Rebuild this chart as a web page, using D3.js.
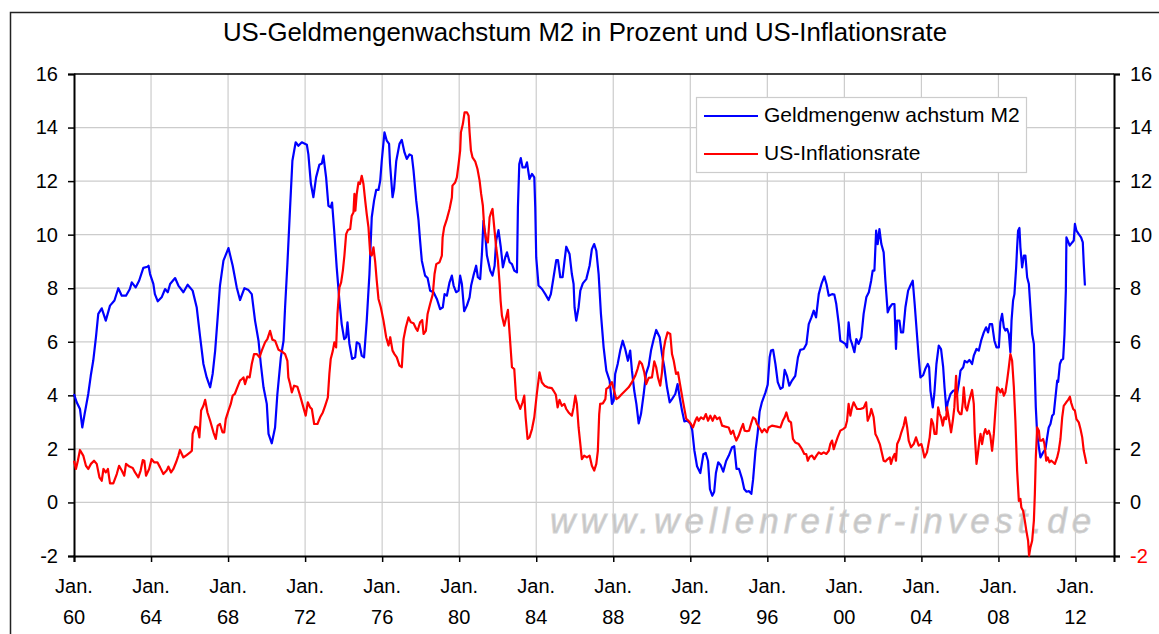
<!DOCTYPE html>
<html>
<head>
<meta charset="utf-8">
<script src="https://cdn.jsdelivr.net/npm/d3@7"></script>
<style>
  body { margin: 0; background: #fff; }
  text { font-family: Arial, "Liberation Sans", sans-serif; }
</style>
</head>
<body>
<div id="chart"></div>
<script>
var title = "US-Geldmengenwachstum M2 in Prozent und US-Inflationsrate"
var seriesNames = ["Geldmengenw achstum M2", "US-Inflationsrate"]
var watermark = "www.wellenreiter-invest.de"
var yTicks = [-2, 0, 2, 4, 6, 8, 10, 12, 14, 16]
var xTickYears = [1960, 1964, 1968, 1972, 1976, 1980, 1984, 1988, 1992, 1996, 2000, 2004, 2008, 2012]

// Geldmengenwachstum M2 (% yoy)
var m2Years = [
  1960.00, 1960.14, 1960.31, 1960.43, 1960.55, 1960.74, 1960.87, 1961.00, 1961.14, 1961.26,
  1961.44, 1961.65, 1961.87, 1962.10, 1962.30, 1962.48, 1962.70, 1962.90, 1963.00, 1963.20,
  1963.38, 1963.60, 1963.81, 1963.87, 1963.95, 1964.12, 1964.20, 1964.35, 1964.55, 1964.73,
  1964.87, 1964.99, 1965.25, 1965.42, 1965.68, 1965.90, 1966.16, 1966.37, 1966.55, 1966.72,
  1966.89, 1967.07, 1967.20, 1967.33, 1967.46, 1967.58, 1967.76, 1967.90, 1968.02, 1968.24,
  1968.45, 1968.62, 1968.85, 1969.06, 1969.23, 1969.40, 1969.58, 1969.70, 1969.84, 1970.01,
  1970.10, 1970.27, 1970.44, 1970.56, 1970.74, 1970.88, 1970.96, 1971.08, 1971.22, 1971.34,
  1971.51, 1971.65, 1971.83, 1972.09, 1972.17, 1972.30, 1972.43, 1972.57, 1972.74, 1972.87,
  1972.95, 1973.09, 1973.21, 1973.33, 1973.40, 1973.51, 1973.64, 1973.78, 1973.90, 1974.03,
  1974.13, 1974.20, 1974.30, 1974.44, 1974.60, 1974.68, 1974.82, 1974.94, 1975.06, 1975.20,
  1975.34, 1975.46, 1975.58, 1975.69, 1975.81, 1975.90, 1975.98, 1976.12, 1976.24, 1976.36,
  1976.41, 1976.54, 1976.62, 1976.73, 1976.90, 1977.02, 1977.16, 1977.28, 1977.42, 1977.54,
  1977.63, 1977.77, 1977.89, 1977.97, 1978.06, 1978.23, 1978.36, 1978.49, 1978.67, 1978.84,
  1979.01, 1979.15, 1979.24, 1979.36, 1979.50, 1979.62, 1979.71, 1979.84, 1979.97, 1980.05,
  1980.14, 1980.26, 1980.40, 1980.54, 1980.62, 1980.74, 1980.88, 1980.97, 1981.09, 1981.18,
  1981.26, 1981.35, 1981.44, 1981.61, 1981.73, 1981.84, 1981.92, 1982.04, 1982.16, 1982.27,
  1982.39, 1982.48, 1982.62, 1982.74, 1982.86, 1983.00, 1983.05, 1983.12, 1983.20, 1983.29,
  1983.43, 1983.52, 1983.65, 1983.78, 1983.90, 1983.95, 1984.00, 1984.12, 1984.30, 1984.47,
  1984.64, 1984.76, 1984.90, 1985.04, 1985.13, 1985.25, 1985.37, 1985.47, 1985.56, 1985.73,
  1985.85, 1985.94, 1985.99, 1986.08, 1986.20, 1986.29, 1986.42, 1986.60, 1986.77, 1986.89,
  1987.01, 1987.12, 1987.24, 1987.36, 1987.50, 1987.64, 1987.81, 1987.93, 1988.02, 1988.10,
  1988.23, 1988.36, 1988.49, 1988.62, 1988.76, 1988.88, 1988.97, 1989.09, 1989.20, 1989.32,
  1989.44, 1989.58, 1989.70, 1989.84, 1989.96, 1990.10, 1990.23, 1990.41, 1990.53, 1990.65,
  1990.79, 1990.93, 1991.05, 1991.22, 1991.34, 1991.45, 1991.57, 1991.69, 1991.83, 1992.00,
  1992.10, 1992.21, 1992.35, 1992.52, 1992.68, 1992.80, 1992.92, 1993.02, 1993.14, 1993.24,
  1993.33, 1993.45, 1993.57, 1993.71, 1993.86, 1994.00, 1994.16, 1994.28, 1994.40, 1994.53,
  1994.68, 1994.80, 1994.92, 1995.05, 1995.17, 1995.26, 1995.38, 1995.50, 1995.60, 1995.72,
  1995.90, 1996.02, 1996.12, 1996.19, 1996.30, 1996.42, 1996.54, 1996.68, 1996.80, 1996.90,
  1997.02, 1997.14, 1997.28, 1997.45, 1997.59, 1997.71, 1997.89, 1998.03, 1998.15, 1998.29,
  1998.41, 1998.53, 1998.67, 1998.81, 1998.96, 1999.07, 1999.19, 1999.36, 1999.48, 1999.58,
  1999.71, 1999.79, 1999.93, 2000.05, 2000.14, 2000.22, 2000.31, 2000.40, 2000.52, 2000.62,
  2000.74, 2000.88, 2001.00, 2001.14, 2001.27, 2001.39, 2001.47, 2001.56, 2001.65, 2001.73,
  2001.82, 2001.92, 2002.04, 2002.13, 2002.25, 2002.36, 2002.48, 2002.60, 2002.68, 2002.74,
  2002.86, 2002.94, 2003.05, 2003.17, 2003.31, 2003.43, 2003.55, 2003.65, 2003.78, 2003.86,
  2003.95, 2004.09, 2004.20, 2004.33, 2004.40, 2004.47, 2004.59, 2004.67, 2004.78, 2004.90,
  2005.02, 2005.13, 2005.20, 2005.30, 2005.37, 2005.51, 2005.65, 2005.77, 2005.85, 2005.94,
  2006.03, 2006.17, 2006.25, 2006.37, 2006.49, 2006.63, 2006.72, 2006.86, 2006.98, 2007.10,
  2007.24, 2007.36, 2007.46, 2007.55, 2007.67, 2007.79, 2007.90, 2008.02, 2008.10, 2008.19,
  2008.28, 2008.36, 2008.45, 2008.54, 2008.62, 2008.68, 2008.76, 2008.83, 2008.92, 2008.97,
  2009.02, 2009.09, 2009.14, 2009.23, 2009.32, 2009.40, 2009.49, 2009.58, 2009.66, 2009.75,
  2009.84, 2009.89, 2009.94, 2010.01, 2010.10, 2010.18, 2010.32, 2010.44, 2010.53, 2010.61,
  2010.70, 2010.79, 2010.87, 2010.96, 2011.05, 2011.10, 2011.19, 2011.27, 2011.36, 2011.43,
  2011.50, 2011.53, 2011.60, 2011.70, 2011.83, 2011.91, 2011.97, 2012.05, 2012.17, 2012.29,
  2012.38, 2012.43, 2012.49]
var m2Values = [
  4.05, 3.74, 3.49, 2.80, 3.30, 4.05, 4.73, 5.30, 6.17, 7.04,
  7.25, 6.79, 7.35, 7.54, 8.00, 7.72, 7.72, 7.97, 8.22, 8.03,
  8.28, 8.76, 8.80, 8.84, 8.53, 8.16, 7.78, 7.51, 7.66, 7.97,
  7.85, 8.16, 8.38, 8.10, 7.85, 8.13, 7.91, 7.29, 6.17, 5.17,
  4.67, 4.30, 4.80, 5.67, 6.91, 8.10, 9.03, 9.28, 9.50, 8.84,
  8.03, 7.56, 8.00, 7.93, 7.78, 6.79, 6.04, 5.17, 4.30, 3.68,
  2.56, 2.21, 2.80, 4.05, 5.42, 6.04, 7.29, 8.90, 11.02, 12.76,
  13.45, 13.32, 13.45, 13.36, 13.00, 11.90, 11.40, 12.14, 12.61, 12.66,
  12.95, 12.14, 11.08, 11.02, 11.20, 10.15, 8.78, 7.54, 6.66, 6.10,
  6.17, 6.73, 5.92, 5.36, 5.42, 5.98, 5.92, 5.48, 5.42, 6.79,
  8.53, 10.65, 11.27, 11.67, 11.67, 12.02, 12.76, 13.82, 13.51, 13.39,
  12.64, 11.40, 11.71, 12.74, 13.39, 13.54, 13.07, 12.83, 13.00, 12.95,
  12.39, 11.27, 10.52, 9.78, 9.03, 8.47, 8.38, 7.91, 7.85, 7.60,
  7.22, 7.29, 7.78, 7.72, 8.22, 8.47, 8.10, 7.85, 7.91, 8.47,
  8.16, 7.14, 7.35, 7.66, 8.10, 8.47, 8.84, 8.41, 8.34, 9.28,
  10.52, 10.02, 9.22, 8.66, 8.47, 8.84, 9.78, 10.17, 9.53, 8.78,
  9.15, 9.34, 8.97, 8.90, 8.66, 8.59, 11.02, 12.64, 12.86, 12.51,
  12.51, 12.70, 12.08, 12.27, 12.14, 11.02, 9.15, 8.10, 7.97, 7.78,
  7.56, 7.78, 8.41, 9.05, 9.05, 8.41, 8.41, 9.03, 9.55, 9.28,
  8.53, 8.16, 7.29, 6.79, 7.29, 7.91, 8.18, 8.34, 8.84, 9.46,
  9.65, 9.40, 8.53, 7.04, 5.79, 4.92, 4.55, 3.68, 3.80, 4.80,
  5.17, 5.67, 6.04, 5.73, 5.29, 5.67, 4.92, 4.17, 3.68, 2.95,
  3.30, 4.05, 4.80, 5.11, 5.67, 6.10, 6.44, 6.17, 5.54, 5.05,
  4.30, 3.74, 3.86, 4.05, 4.42, 3.92, 3.43, 3.03, 3.05, 2.95,
  2.70, 1.95, 1.35, 1.10, 1.80, 1.85, 1.55, 0.50, 0.25, 0.40,
  1.10, 1.50, 1.40, 1.15, 1.55, 1.75, 2.05, 2.10, 1.25, 1.25,
  0.90, 0.50, 0.40, 0.42, 0.32, 0.85, 1.90, 2.60, 3.40, 3.75,
  4.10, 4.40, 5.42, 5.67, 5.70, 5.17, 4.49, 4.24, 4.30, 4.95,
  4.73, 4.36, 4.55, 4.73, 5.42, 5.70, 5.73, 5.92, 6.66, 6.91,
  7.16, 6.91, 7.78, 8.16, 8.44, 8.16, 7.72, 7.78, 7.76, 7.41,
  6.66, 6.04, 5.98, 5.92, 5.79, 6.73, 6.10, 5.92, 5.61, 6.10,
  5.92, 6.17, 7.04, 7.66, 7.85, 8.28, 8.66, 8.66, 10.15, 9.65,
  10.21, 9.65, 9.34, 8.28, 7.10, 7.29, 7.41, 7.41, 5.73, 6.79,
  6.79, 6.35, 6.35, 7.29, 7.91, 8.10, 8.28, 7.41, 6.17, 5.42,
  4.67, 4.75, 4.98, 5.17, 5.05, 4.17, 3.55, 4.05, 5.17, 5.86,
  5.73, 5.05, 4.30, 3.43, 3.74, 4.05, 4.17, 4.20, 4.05, 4.42,
  4.92, 5.05, 5.29, 5.23, 5.32, 5.17, 5.48, 5.73, 5.67, 6.04,
  6.35, 6.54, 6.35, 6.66, 6.66, 6.04, 5.79, 5.79, 6.73, 7.04,
  6.54, 6.42, 6.48, 6.29, 5.61, 6.79, 7.54, 7.78, 8.78, 9.53,
  10.15, 10.25, 9.53, 8.78, 9.22, 9.22, 8.41, 8.16, 7.29, 6.29,
  5.92, 4.80, 3.55, 2.56, 2.06, 1.68, 1.87, 1.99, 2.43, 2.80,
  2.93, 3.24, 3.30, 3.92, 4.55, 4.50, 5.17, 5.32, 5.36, 6.29,
  7.91, 9.90, 9.78, 9.59, 9.71, 9.78, 10.40, 10.15, 10.02, 9.90,
  9.71, 8.90, 8.10]

// US-Inflationsrate (% yoy)
var cpiYears = [
  1960.00, 1960.10, 1960.20, 1960.31, 1960.48, 1960.62, 1960.74, 1960.88, 1961.04, 1961.18,
  1961.32, 1961.44, 1961.53, 1961.65, 1961.76, 1961.87, 1962.04, 1962.22, 1962.34, 1962.48,
  1962.61, 1962.70, 1962.88, 1963.05, 1963.17, 1963.34, 1963.46, 1963.57, 1963.65, 1963.74,
  1963.90, 1964.03, 1964.16, 1964.33, 1964.47, 1964.64, 1964.81, 1964.90, 1965.04, 1965.16,
  1965.30, 1965.42, 1965.50, 1965.68, 1965.85, 1966.03, 1966.12, 1966.16, 1966.29, 1966.42,
  1966.51, 1966.60, 1966.72, 1966.81, 1966.93, 1967.07, 1967.24, 1967.36, 1967.46, 1967.58,
  1967.71, 1967.80, 1967.88, 1968.02, 1968.14, 1968.24, 1968.35, 1968.45, 1968.62, 1968.72,
  1968.80, 1968.88, 1969.00, 1969.12, 1969.23, 1969.35, 1969.50, 1969.63, 1969.75, 1969.92,
  1970.04, 1970.18, 1970.30, 1970.44, 1970.62, 1970.79, 1970.96, 1971.08, 1971.13, 1971.22,
  1971.31, 1971.43, 1971.60, 1971.74, 1971.91, 1972.03, 1972.14, 1972.26, 1972.35, 1972.47,
  1972.64, 1972.78, 1972.92, 1973.04, 1973.18, 1973.26, 1973.33, 1973.44, 1973.52, 1973.61,
  1973.68, 1973.78, 1973.87, 1973.96, 1974.04, 1974.13, 1974.22, 1974.34, 1974.42, 1974.51,
  1974.56, 1974.61, 1974.68, 1974.77, 1974.85, 1974.94, 1975.03, 1975.12, 1975.20, 1975.29,
  1975.38, 1975.46, 1975.55, 1975.64, 1975.72, 1975.81, 1975.93, 1976.07, 1976.21, 1976.33,
  1976.42, 1976.54, 1976.64, 1976.76, 1976.90, 1977.02, 1977.11, 1977.23, 1977.37, 1977.49,
  1977.63, 1977.77, 1977.84, 1977.97, 1978.08, 1978.15, 1978.27, 1978.36, 1978.49, 1978.63,
  1978.72, 1978.81, 1978.98, 1979.10, 1979.14, 1979.22, 1979.36, 1979.50, 1979.62, 1979.65,
  1979.79, 1979.88, 1979.97, 1980.05, 1980.09, 1980.19, 1980.28, 1980.40, 1980.49, 1980.54,
  1980.61, 1980.69, 1980.83, 1980.95, 1981.06, 1981.14, 1981.23, 1981.30, 1981.40, 1981.49,
  1981.58, 1981.66, 1981.73, 1981.82, 1981.92, 1982.01, 1982.10, 1982.15, 1982.22, 1982.34,
  1982.44, 1982.53, 1982.62, 1982.74, 1982.86, 1982.96, 1983.08, 1983.17, 1983.29, 1983.38,
  1983.45, 1983.55, 1983.65, 1983.78, 1983.90, 1984.03, 1984.17, 1984.29, 1984.43, 1984.59,
  1984.81, 1984.90, 1985.02, 1985.11, 1985.21, 1985.33, 1985.46, 1985.56, 1985.68, 1985.85,
  1985.94, 1986.03, 1986.11, 1986.20, 1986.29, 1986.37, 1986.49, 1986.63, 1986.77, 1986.89,
  1987.01, 1987.12, 1987.20, 1987.27, 1987.32, 1987.46, 1987.59, 1987.64, 1987.76, 1987.93,
  1988.02, 1988.16, 1988.28, 1988.45, 1988.62, 1988.80, 1988.97, 1989.14, 1989.26, 1989.37,
  1989.49, 1989.61, 1989.71, 1989.84, 1990.01, 1990.13, 1990.23, 1990.32, 1990.44, 1990.53,
  1990.61, 1990.70, 1990.82, 1990.96, 1991.05, 1991.14, 1991.26, 1991.36, 1991.48, 1991.60,
  1991.71, 1991.79, 1991.91, 1992.03, 1992.14, 1992.26, 1992.35, 1992.43, 1992.55, 1992.69,
  1992.81, 1992.92, 1993.04, 1993.16, 1993.27, 1993.39, 1993.52, 1993.65, 1993.82, 1993.99,
  1994.11, 1994.22, 1994.30, 1994.39, 1994.51, 1994.63, 1994.74, 1994.82, 1994.94, 1995.05,
  1995.15, 1995.26, 1995.38, 1995.46, 1995.60, 1995.72, 1995.84, 1995.98, 1996.07, 1996.24,
  1996.50, 1996.68, 1996.80, 1996.90, 1996.99, 1997.11, 1997.23, 1997.33, 1997.45, 1997.63,
  1997.80, 1997.92, 1998.02, 1998.10, 1998.20, 1998.32, 1998.44, 1998.55, 1998.67, 1998.80,
  1998.93, 1999.07, 1999.19, 1999.27, 1999.36, 1999.45, 1999.53, 1999.65, 1999.79, 1999.93,
  2000.05, 2000.14, 2000.22, 2000.31, 2000.40, 2000.48, 2000.57, 2000.66, 2000.83, 2001.00,
  2001.13, 2001.21, 2001.32, 2001.40, 2001.52, 2001.61, 2001.70, 2001.84, 2001.96, 2002.04,
  2002.13, 2002.25, 2002.36, 2002.42, 2002.52, 2002.61, 2002.68, 2002.74, 2002.86, 2002.96,
  2003.08, 2003.17, 2003.26, 2003.34, 2003.46, 2003.60, 2003.72, 2003.86, 2004.00, 2004.08,
  2004.16, 2004.29, 2004.43, 2004.52, 2004.61, 2004.68, 2004.78, 2004.87, 2004.95, 2005.02,
  2005.11, 2005.19, 2005.28, 2005.33, 2005.46, 2005.54, 2005.63, 2005.71, 2005.80, 2005.85,
  2005.90, 2006.00, 2006.08, 2006.15, 2006.20, 2006.29, 2006.37, 2006.46, 2006.55, 2006.63,
  2006.72, 2006.77, 2006.86, 2006.93, 2007.01, 2007.07, 2007.15, 2007.24, 2007.32, 2007.41,
  2007.50, 2007.58, 2007.67, 2007.76, 2007.84, 2007.93, 2008.02, 2008.10, 2008.19, 2008.28,
  2008.36, 2008.45, 2008.54, 2008.62, 2008.71, 2008.80, 2008.88, 2008.97, 2009.06, 2009.14,
  2009.19, 2009.28, 2009.37, 2009.45, 2009.54, 2009.59, 2009.66, 2009.75, 2009.84, 2009.89,
  2009.94, 2010.01, 2010.10, 2010.15, 2010.24, 2010.32, 2010.39, 2010.48, 2010.56, 2010.65,
  2010.74, 2010.84, 2010.93, 2011.05, 2011.13, 2011.22, 2011.31, 2011.39, 2011.52, 2011.62,
  2011.71, 2011.77, 2011.88, 2011.97, 2012.05, 2012.17, 2012.26, 2012.35, 2012.43, 2012.52,
  2012.57]
var cpiValues = [
  1.56, 1.25, 1.56, 1.96, 1.75, 1.37, 1.25, 1.44, 1.56, 1.44,
  0.94, 0.81, 1.25, 1.12, 1.25, 0.71, 0.71, 1.06, 1.37, 1.19,
  1.00, 1.44, 1.34, 1.29, 1.12, 0.94, 1.19, 1.58, 1.56, 1.00,
  1.25, 1.62, 1.50, 1.50, 1.31, 1.06, 1.19, 1.34, 1.12, 1.25,
  1.50, 1.75, 1.96, 1.68, 1.77, 1.87, 1.93, 2.56, 2.83, 2.80,
  2.43, 3.43, 3.61, 3.83, 3.36, 3.05, 2.62, 2.37, 2.87, 2.93,
  2.62, 2.62, 3.11, 3.43, 3.68, 3.99, 4.05, 4.24, 4.55, 4.61,
  4.67, 4.42, 4.70, 4.67, 5.17, 5.54, 5.54, 5.42, 5.67, 5.98,
  6.10, 6.41, 6.08, 6.04, 5.70, 5.64, 5.54, 5.29, 4.67, 4.42,
  4.11, 4.36, 4.32, 3.99, 3.55, 3.24, 3.74, 3.55, 3.49, 2.93,
  2.93, 3.18, 3.36, 3.61, 3.92, 4.80, 5.36, 5.67, 5.98, 5.79,
  7.04, 8.03, 8.22, 8.66, 9.22, 10.02, 10.17, 10.21, 10.71, 10.83,
  11.52, 10.90, 11.52, 11.95, 11.89, 12.20, 11.89, 11.27, 10.77, 10.27,
  9.28, 9.22, 9.53, 8.97, 8.28, 7.60, 7.29, 6.79, 6.17, 5.86,
  6.17, 5.67, 5.54, 5.42, 5.11, 5.05, 6.10, 6.54, 6.91, 6.73,
  6.69, 6.48, 6.41, 6.73, 6.81, 6.29, 6.41, 7.04, 7.41, 7.78,
  8.53, 8.90, 8.97, 9.22, 9.90, 10.27, 10.58, 10.96, 11.39, 11.83,
  11.95, 12.14, 12.64, 13.14, 13.82, 14.13, 14.57, 14.57, 14.44, 13.82,
  13.14, 12.89, 12.74, 12.45, 12.02, 11.52, 11.08, 10.27, 9.84, 9.71,
  10.65, 10.83, 10.96, 10.27, 9.53, 9.03, 8.16, 7.54, 6.97, 6.60,
  6.91, 7.19, 6.29, 5.05, 4.98, 3.86, 3.68, 3.49, 3.74, 3.99,
  3.18, 2.37, 2.43, 2.74, 3.18, 4.05, 4.86, 4.49, 4.36, 4.30,
  4.27, 4.17, 4.02, 3.55, 3.83, 3.61, 3.68, 3.49, 3.36, 3.24,
  3.55, 3.99, 3.68, 2.80, 2.18, 1.62, 1.75, 1.68, 1.75, 1.37,
  1.19, 1.44, 1.93, 3.30, 3.68, 3.70, 3.86, 4.24, 4.30, 4.49,
  4.24, 3.86, 3.92, 4.05, 4.17, 4.30, 4.49, 4.73, 4.98, 5.27,
  5.17, 4.86, 4.42, 4.65, 4.67, 5.27, 5.05, 4.67, 4.36, 4.86,
  5.67, 6.04, 6.35, 6.29, 5.54, 5.29, 4.80, 4.86, 4.36, 3.86,
  3.43, 3.12, 3.05, 2.93, 2.80, 3.05, 3.18, 3.05, 3.18, 3.11,
  3.30, 3.05, 3.24, 3.05, 3.24, 3.11, 3.18, 2.87, 2.83, 2.80,
  2.56, 2.68, 2.49, 2.31, 2.49, 2.74, 2.93, 2.68, 2.66, 2.68,
  2.93, 3.18, 3.11, 2.93, 2.78, 2.62, 2.74, 2.62, 2.80, 2.87,
  2.83, 2.80, 3.05, 3.18, 3.36, 3.05, 2.99, 2.37, 2.24, 2.18,
  1.99, 1.81, 1.81, 1.56, 1.71, 1.75, 1.62, 1.75, 1.87, 1.81,
  1.87, 1.81, 1.93, 2.18, 2.31, 1.99, 2.18, 2.43, 2.68, 2.74,
  2.80, 3.05, 3.68, 3.24, 3.55, 3.74, 3.61, 3.49, 3.49, 3.53,
  3.74, 3.05, 3.24, 3.49, 3.18, 2.56, 2.43, 2.18, 1.81, 1.56,
  1.53, 1.62, 1.68, 1.44, 1.68, 1.81, 1.56, 2.18, 2.37, 2.62,
  2.87, 3.18, 2.80, 2.31, 2.06, 2.18, 2.43, 2.12, 2.18, 1.95,
  1.68, 1.87, 2.43, 3.11, 2.93, 2.56, 2.56, 3.55, 3.30, 3.18,
  2.87, 3.18, 3.11, 3.55, 2.99, 2.62, 3.05, 3.55, 4.73, 4.05,
  3.43, 3.30, 3.30, 3.74, 4.30, 3.55, 3.43, 3.74, 3.99, 4.20,
  3.68, 2.56, 1.44, 1.81, 2.31, 2.56, 2.18, 2.56, 2.74, 2.56,
  2.68, 2.49, 1.93, 2.56, 3.43, 4.30, 4.24, 4.11, 4.24, 3.99,
  4.11, 4.55, 5.05, 5.54, 5.29, 4.30, 3.05, 1.19, 0.06, 0.13,
  -0.19, -0.31, -0.68, -1.06, -1.43, -1.99, -1.68, -1.43, -0.68, 0.31,
  1.68, 2.80, 2.68, 2.31, 2.31, 2.37, 2.18, 1.56, 1.68, 1.50,
  1.56, 1.50, 1.44, 1.68, 1.93, 2.37, 3.18, 3.61, 3.74, 3.83,
  3.95, 3.74, 3.49, 3.43, 3.11, 2.99, 2.74, 2.43, 1.93, 1.62,
  1.44]

var seriesColors = ["#0000ff", "#ff0000"]

var width = 1159, height = 634
var plot = { left: 74, top: 74, right: 1114, bottom: 556 }

var svg = d3.select("#chart").append("svg")
    .attr("width", width)
    .attr("height", height)

// outer frame of the chart object
svg.append("rect")
    .attr("x", 10.5).attr("y", 12.5)
    .attr("width", width + 20).attr("height", height + 20)
    .style("fill", "#fff")
    .style("stroke", "#222")
    .style("stroke-width", 1.5)

var x = d3.scaleLinear().domain([1960, 2014]).range([plot.left, plot.right])
var y = d3.scaleLinear().domain([-2, 16]).range([plot.bottom, plot.top])

svg.append("text")
    .attr("x", 585).attr("y", 41)
    .attr("text-anchor", "middle")
    .style("font-size", "25.8px")
    .style("fill", "#000")
    .text(title)

// grid
svg.selectAll("line.hgrid")
    .data(yTicks.filter(function(d) { return d > -2 && d < 16 }))
  .enter().append("line")
    .attr("class", "hgrid")
    .attr("x1", plot.left).attr("x2", plot.right)
    .attr("y1", function(d) { return y(d) }).attr("y2", function(d) { return y(d) })
    .style("stroke", "#cccccc")
    .style("stroke-width", 1.2)

svg.selectAll("line.vgrid")
    .data(xTickYears.filter(function(d) { return d > 1960 }))
  .enter().append("line")
    .attr("class", "vgrid")
    .attr("x1", function(d) { return x(d) }).attr("x2", function(d) { return x(d) })
    .attr("y1", plot.top).attr("y2", plot.bottom)
    .style("stroke", "#cccccc")
    .style("stroke-width", 1.2)

// watermark sits behind the series
svg.append("text")
    .attr("x", 550).attr("y", 533)
    .style("font-size", "35px")
    .style("font-style", "italic")
    .style("letter-spacing", "5.1px")
    .style("fill", "#c6c6c6")
    .style("stroke", "#d4d4d4")
    .style("stroke-width", 0.8)
    .text(watermark)

// axes, plain hyphen for negatives like the original
var fmt = function(d) { return String(d) }
var leftAxis = d3.axisLeft(y).tickValues(yTicks).tickSize(6).tickPadding(10).tickFormat(fmt)
var rightAxis = d3.axisRight(y).tickValues(yTicks).tickSize(6).tickPadding(10).tickFormat(fmt)
var bottomAxis = d3.axisBottom(x).tickValues(xTickYears).tickSize(6).tickFormat("")

var gl = svg.append("g").attr("transform", "translate(" + plot.left + ",0)").call(leftAxis)
var gr = svg.append("g").attr("transform", "translate(" + plot.right + ",0)").call(rightAxis)
var gb = svg.append("g").attr("transform", "translate(0," + plot.bottom + ")").call(bottomAxis)

;[gl, gr, gb].forEach(function(g) {
  g.select(".domain").style("stroke", "#000").style("stroke-width", 2)
  g.selectAll(".tick line").style("stroke", "#000").style("stroke-width", 1.5)
  g.selectAll(".tick text")
      .style("font-size", "20px")
      .style("font-family", "Arial, 'Liberation Sans', sans-serif")
      .style("fill", "#000")
})
gr.selectAll(".tick text").style("fill", function(d) { return d < 0 ? "#ff0000" : "#000" })

svg.append("line")
    .attr("x1", plot.left).attr("x2", plot.right)
    .attr("y1", plot.top).attr("y2", plot.top)
    .style("stroke", "#000").style("stroke-width", 1.5)

var xLabels = svg.selectAll("text.xlab")
    .data(xTickYears)
  .enter().append("text")
    .attr("class", "xlab")
    .attr("text-anchor", "middle")
    .attr("x", function(d) { return x(d) })
    .style("font-size", "20px")
xLabels.append("tspan")
    .attr("x", function(d) { return x(d) })
    .attr("y", 593)
    .text("Jan.")
xLabels.append("tspan")
    .attr("x", function(d) { return x(d) })
    .attr("y", 624)
    .text(function(d) { return String(d).slice(2) })

// series
var line = d3.line()
    .x(function(d) { return x(d[0]) })
    .y(function(d) { return y(d[1]) })

var series = [
  d3.zip(m2Years, m2Values),
  d3.zip(cpiYears, cpiValues)
]

svg.selectAll("path.series")
    .data(series)
  .enter().append("path")
    .attr("class", "series")
    .attr("d", line)
    .style("fill", "none")
    .style("stroke", function(d, i) { return seriesColors[i] })
    .style("stroke-width", 2.2)
    .style("stroke-linejoin", "round")

// legend
var legend = svg.append("g")
legend.append("rect")
    .attr("x", 696.5).attr("y", 97.5)
    .attr("width", 330).attr("height", 75)
    .style("fill", "#fff")
    .style("stroke", "#cccccc")
    .style("stroke-width", 1.2)

var item = legend.selectAll("g.item")
    .data(seriesNames)
  .enter().append("g")
    .attr("class", "item")
    .attr("transform", function(d, i) { return "translate(0," + (116 + i * 38) + ")" })
item.append("line")
    .attr("x1", 704).attr("x2", 758)
    .style("stroke", function(d, i) { return seriesColors[i] })
    .style("stroke-width", 2.2)
item.append("text")
    .attr("x", 764).attr("y", 6)
    .style("font-size", "21px")
    .text(function(d) { return d })
</script>
</body>
</html>
